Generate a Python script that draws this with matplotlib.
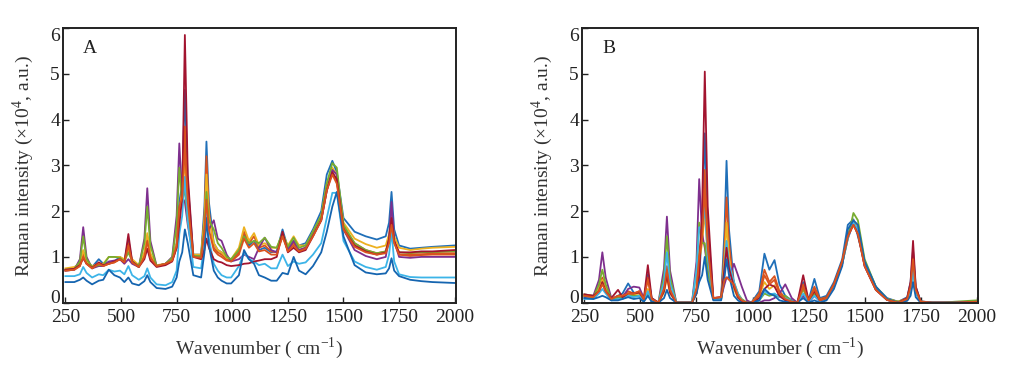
import matplotlib
matplotlib.use("Agg")
import matplotlib.pyplot as plt
import numpy as np

plt.rcParams['font.family'] = ['Liberation Serif', 'DejaVu Serif']
plt.rcParams['mathtext.fontset'] = 'custom'
plt.rcParams['mathtext.rm'] = 'Liberation Serif'

# Shared wavenumber grid (cm^-1)
wavenumber = [250, 290, 315, 330, 345, 370, 400, 420, 445, 470, 495, 515, 533, 550, 580,
              605, 618, 632, 660, 700, 730, 750, 762, 775, 787, 800, 825, 860, 875, 884,
              895, 917, 935, 952, 975, 995, 1030, 1053, 1075, 1098, 1120, 1146, 1175, 1200,
              1226, 1250, 1276, 1300, 1330, 1363, 1400, 1425, 1450, 1470, 1500, 1550, 1600,
              1650, 1690, 1705, 1716, 1728, 1750, 1800, 1850, 1900, 2000]

colors = ['#1f6fb8', '#d9531e', '#edb120', '#7e2f8e', '#77ac30', '#3cb4e8', '#a2142f', '#1565b0', '#d9531e']

# Panel A: raw spectra (x10^4 a.u.)
A_blue1 = [0.72,0.75,0.85,1.1,0.9,0.78,0.95,0.85,0.88,0.9,1.0,0.9,1.38,0.9,0.8,1.05,1.45,1.05,0.8,0.85,0.95,1.3,2.2,2.6,4.65,2.6,1.05,1.05,2.1,3.52,2.2,1.3,1.15,1.1,0.95,0.92,1.1,1.5,1.25,1.35,1.15,1.2,1.1,1.12,1.6,1.2,1.35,1.25,1.3,1.6,2.0,2.8,3.1,2.85,1.85,1.55,1.45,1.38,1.45,1.75,2.42,1.6,1.25,1.18,1.2,1.22,1.25]
A_red1 = [0.7,0.72,0.8,1.05,0.85,0.75,0.85,0.8,0.85,0.88,0.95,0.88,1.3,0.88,0.78,1.05,1.4,1.0,0.8,0.85,0.92,1.2,2.0,2.5,3.85,2.4,1.0,1.0,1.9,3.2,2.0,1.2,1.1,1.05,0.95,0.92,1.1,1.55,1.3,1.45,1.2,1.25,1.12,1.1,1.45,1.15,1.3,1.15,1.2,1.5,1.85,2.5,2.85,2.65,1.65,1.3,1.15,1.08,1.12,1.4,1.95,1.35,1.05,1.02,1.04,1.05,1.05]
A_yellow = [0.75,0.78,0.85,1.15,0.9,0.8,0.85,0.85,1.0,1.0,1.0,0.95,1.15,0.95,0.82,1.1,1.52,1.08,0.82,0.85,0.95,1.3,2.0,2.4,3.1,2.2,1.05,1.05,1.8,2.8,1.9,1.3,1.15,1.1,0.98,0.95,1.2,1.65,1.35,1.52,1.25,1.3,1.2,1.2,1.5,1.25,1.45,1.25,1.25,1.55,1.9,2.6,2.95,2.8,1.75,1.4,1.28,1.2,1.25,1.5,1.85,1.45,1.2,1.15,1.18,1.2,1.22]
A_purple = [0.7,0.72,0.95,1.65,1.0,0.75,0.8,0.8,0.9,0.92,0.95,0.85,0.95,0.85,0.78,1.4,2.5,1.35,0.8,0.85,1.0,1.9,3.48,2.3,2.2,1.7,1.0,1.0,1.45,1.9,1.6,1.8,1.4,1.35,1.05,0.9,0.95,1.05,1.0,0.95,1.2,1.42,1.15,1.1,1.5,1.15,1.35,1.15,1.2,1.5,1.8,2.45,2.9,2.8,1.6,1.15,1.02,0.95,1.0,1.4,2.2,1.35,1.0,0.98,1.0,1.0,1.0]
A_green = [0.72,0.74,0.9,1.45,0.95,0.78,0.82,0.82,1.0,1.0,0.98,0.9,1.1,0.9,0.8,1.3,2.1,1.25,0.8,0.85,0.98,1.7,2.95,2.2,2.5,1.8,1.02,1.02,1.65,2.42,1.8,1.6,1.3,1.2,1.0,0.95,1.15,1.45,1.3,1.35,1.3,1.42,1.22,1.2,1.52,1.22,1.42,1.2,1.25,1.55,1.9,2.6,3.05,2.95,1.7,1.3,1.15,1.08,1.12,1.35,1.75,1.3,1.1,1.08,1.1,1.1,1.12]
A_lightblue = [0.58,0.58,0.62,0.78,0.65,0.55,0.62,0.6,0.72,0.68,0.7,0.62,0.8,0.6,0.5,0.58,0.75,0.55,0.4,0.38,0.45,0.7,1.5,1.9,2.75,1.8,0.78,0.75,1.3,2.0,1.4,0.85,0.7,0.6,0.55,0.55,0.8,1.1,0.95,0.9,0.82,0.85,0.75,0.75,1.05,0.8,0.9,0.85,0.88,1.05,1.3,1.85,2.4,2.4,1.35,0.9,0.78,0.72,0.78,1.05,1.55,0.9,0.62,0.56,0.55,0.55,0.55]
A_darkred = [0.72,0.74,0.82,0.97,0.85,0.76,0.88,0.82,0.85,0.9,0.95,0.88,1.5,0.9,0.78,0.95,1.18,0.92,0.78,0.82,0.9,1.2,1.7,2.3,5.85,2.8,1.0,0.95,1.15,1.4,1.2,0.95,0.9,0.88,0.82,0.8,0.82,0.85,0.86,0.9,0.92,0.95,0.95,1.0,1.55,1.1,1.2,1.1,1.15,1.45,1.8,2.45,2.85,2.7,1.6,1.25,1.12,1.05,1.1,1.4,1.85,1.35,1.1,1.1,1.12,1.12,1.15]
A_blue2 = [0.45,0.45,0.5,0.55,0.48,0.4,0.48,0.5,0.72,0.6,0.55,0.45,0.55,0.42,0.38,0.47,0.6,0.45,0.32,0.3,0.35,0.55,0.9,1.1,1.6,1.3,0.6,0.55,1.1,1.85,1.25,0.7,0.55,0.48,0.42,0.42,0.6,1.15,0.95,0.85,0.6,0.55,0.48,0.48,0.65,0.62,1.0,0.7,0.62,0.8,1.1,1.55,2.1,2.42,1.45,0.82,0.66,0.62,0.64,0.75,0.97,0.7,0.58,0.5,0.47,0.45,0.43]
A_red2 = [0.7,0.72,0.8,1.0,0.85,0.75,0.85,0.8,0.85,0.88,0.95,0.88,1.25,0.88,0.78,1.0,1.35,0.98,0.8,0.85,0.92,1.25,2.1,2.3,3.4,2.2,1.0,0.98,1.55,2.25,1.6,1.15,1.05,1.0,0.92,0.9,1.05,1.4,1.2,1.3,1.12,1.15,1.05,1.05,1.45,1.12,1.25,1.12,1.18,1.45,1.8,2.45,2.8,2.6,1.6,1.22,1.1,1.05,1.08,1.3,1.7,1.3,1.05,1.05,1.06,1.07,1.08]

# Panel B: baseline-corrected spectra (x10^4 a.u.)
B_blue1 = [0.18,0.15,0.25,0.45,0.25,0.08,0.15,0.2,0.42,0.22,0.2,0.08,0.62,0.1,0.0,0.3,0.75,0.28,0.0,0.0,0.0,0.3,0.5,1.7,3.7,1.7,0.1,0.1,1.6,3.1,1.6,0.4,0.15,0.05,0.0,0.0,0.25,1.07,0.72,0.93,0.4,0.15,0.05,0.0,0.45,0.05,0.52,0.1,0.15,0.45,0.95,1.7,1.82,1.45,0.9,0.35,0.1,0.02,0.12,0.45,1.15,0.35,0.03,0.0,0.0,0.0,0.02]
B_red1 = [0.15,0.12,0.3,0.55,0.3,0.07,0.15,0.15,0.25,0.2,0.25,0.08,0.55,0.08,0.0,0.32,0.8,0.3,0.0,0.0,0.0,0.3,1.1,1.6,2.9,1.4,0.1,0.1,1.2,2.3,1.3,0.35,0.12,0.05,0.0,0.0,0.2,0.72,0.45,0.58,0.25,0.1,0.03,0.0,0.4,0.05,0.35,0.08,0.12,0.4,0.9,1.5,1.75,1.55,0.85,0.3,0.08,0.02,0.1,0.4,1.0,0.3,0.03,0.0,0.0,0.0,0.02]
B_yellow = [0.18,0.15,0.28,0.5,0.28,0.08,0.12,0.12,0.2,0.18,0.2,0.05,0.3,0.05,0.0,0.22,0.55,0.2,0.0,0.0,0.0,0.2,0.9,1.3,2.0,1.0,0.08,0.08,0.95,1.75,1.0,0.3,0.1,0.03,0.0,0.0,0.15,0.45,0.3,0.38,0.15,0.08,0.02,0.0,0.3,0.03,0.25,0.05,0.1,0.38,0.88,1.45,1.8,1.65,0.85,0.3,0.08,0.02,0.08,0.35,0.9,0.28,0.02,0.0,0.0,0.0,0.02]
B_purple = [0.12,0.15,0.5,1.1,0.55,0.1,0.1,0.12,0.3,0.35,0.33,0.1,0.2,0.03,0.0,0.75,1.88,0.7,0.0,0.0,0.0,0.9,2.7,1.5,1.2,0.7,0.1,0.12,0.4,0.55,0.55,0.85,0.6,0.35,0.05,0.0,0.0,0.05,0.05,0.1,0.2,0.4,0.1,0.0,0.15,0.0,0.15,0.03,0.1,0.35,0.85,1.4,1.75,1.55,0.8,0.28,0.06,0.0,0.06,0.3,0.85,0.25,0.02,0.0,0.0,0.0,0.0]
B_green = [0.15,0.12,0.4,0.72,0.4,0.08,0.1,0.1,0.15,0.15,0.15,0.03,0.22,0.02,0.0,0.58,1.45,0.55,0.0,0.0,0.0,0.7,1.75,1.3,1.3,0.7,0.08,0.08,0.75,1.25,0.8,0.45,0.2,0.08,0.0,0.0,0.05,0.2,0.15,0.18,0.12,0.15,0.03,0.0,0.3,0.02,0.2,0.05,0.1,0.35,0.85,1.4,1.96,1.8,0.95,0.35,0.08,0.02,0.08,0.3,0.8,0.25,0.02,0.0,0.0,0.02,0.05]
B_lightblue = [0.08,0.08,0.2,0.3,0.2,0.05,0.08,0.08,0.15,0.12,0.15,0.03,0.25,0.03,0.0,0.45,1.1,0.42,0.0,0.0,0.0,0.7,1.65,1.6,2.1,1.0,0.08,0.08,0.8,1.35,0.85,0.45,0.2,0.05,0.0,0.0,0.05,0.25,0.18,0.2,0.12,0.1,0.03,0.0,0.2,0.02,0.15,0.03,0.08,0.35,0.85,1.4,1.75,1.6,0.85,0.3,0.06,0.0,0.06,0.25,0.7,0.2,0.02,0.0,0.0,0.0,0.02]
B_darkred = [0.18,0.15,0.25,0.45,0.25,0.1,0.28,0.12,0.2,0.2,0.22,0.08,0.82,0.1,0.0,0.25,0.6,0.22,0.0,0.0,0.0,0.2,0.6,2.0,5.05,2.1,0.1,0.12,0.75,1.2,0.75,0.35,0.12,0.03,0.0,0.0,0.1,0.3,0.4,0.35,0.15,0.05,0.02,0.0,0.6,0.05,0.25,0.05,0.1,0.4,0.9,1.45,1.7,1.5,0.8,0.28,0.06,0.0,0.1,0.45,1.35,0.35,0.02,0.0,0.0,0.0,0.02]
B_blue2 = [0.1,0.08,0.12,0.15,0.12,0.05,0.05,0.08,0.12,0.08,0.1,0.02,0.15,0.02,0.0,0.1,0.28,0.1,0.0,0.0,0.0,0.2,0.45,0.6,1.0,0.5,0.05,0.05,0.55,0.95,0.6,0.15,0.05,0.0,0.0,0.0,0.05,0.3,0.2,0.15,0.05,0.02,0.0,0.0,0.1,0.0,0.05,0.0,0.05,0.3,0.8,1.6,1.8,1.7,0.9,0.35,0.08,0.0,0.04,0.15,0.45,0.12,0.0,0.0,0.0,0.0,0.0]
B_red2 = [0.15,0.12,0.25,0.4,0.25,0.08,0.15,0.15,0.2,0.2,0.25,0.08,0.5,0.08,0.0,0.3,0.72,0.28,0.0,0.0,0.0,0.3,1.0,1.4,2.5,1.2,0.1,0.12,0.5,0.55,0.5,0.4,0.15,0.05,0.0,0.0,0.15,0.6,0.4,0.5,0.2,0.08,0.02,0.0,0.35,0.05,0.3,0.05,0.1,0.4,0.9,1.45,1.7,1.5,0.8,0.28,0.06,0.0,0.08,0.35,0.95,0.28,0.02,0.0,0.0,0.0,0.02]

panel_A = [A_blue1, A_red1, A_yellow, A_purple, A_green, A_lightblue, A_darkred, A_blue2, A_red2]
panel_B = [B_blue1, B_red1, B_yellow, B_purple, B_green, B_lightblue, B_darkred, B_blue2, B_red2]
panel_labels = ['A', 'B']
x_ticks = [250, 500, 750, 1000, 1250, 1500, 1750, 2000]
y_ticks = [0, 1, 2, 3, 4, 5, 6]

fig = plt.figure(figsize=(10.17, 3.70), dpi=100)
axes = [fig.add_axes([0.0617, 0.182, 0.3867, 0.742]),
        fig.add_axes([0.572, 0.182, 0.3897, 0.742])]

for ax, data, lab in zip(axes, [panel_A, panel_B], panel_labels):
    for series, c in zip(data, colors):
        ax.plot(wavenumber, series, color=c, lw=1.3, solid_joinstyle='round')
    ax.set_xlim(238, 2006)
    ax.set_ylim(0, 6)
    ax.set_xticks(x_ticks)
    ax.set_yticks(y_ticks)
    ax.tick_params(direction='in', length=4, width=1.0, labelsize=14, colors='#222222')
    ax.tick_params(axis='x', pad=4.5)
    ax.tick_params(axis='y', pad=2)
    yt = ax.yaxis.get_major_ticks()
    yt[0].label1.set_verticalalignment('baseline')
    yt[-1].label1.set_verticalalignment('top')
    for s in ax.spines.values():
        s.set_linewidth(1.4)
        s.set_color('#222222')
    ax.set_xlabel('Wavenumber ( cm$^{\\mathrm{-1}}$)', fontsize=14, labelpad=7, color='#333333')
    ax.set_ylabel('Raman intensity (×10$^{\\mathrm{4}}$, a.u.)', fontsize=14, labelpad=10, color='#333333')
    ax.text(0.052, 0.925, lab, transform=ax.transAxes, fontsize=14, ha='left', va='center', color='#222222')

fig.savefig('out.png', dpi=100)
